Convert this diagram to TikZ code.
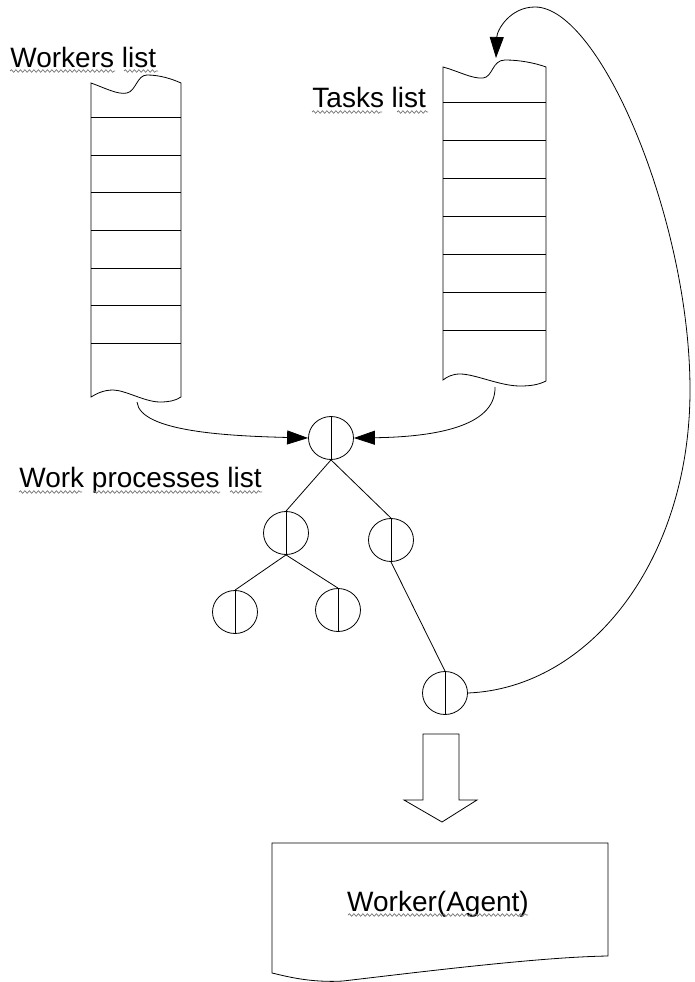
\documentclass[tikz,border=0pt]{standalone}
\usepackage{fontspec}
\setmainfont{Liberation Sans}
\usetikzlibrary{arrows.meta,shapes.geometric,decorations.pathmorphing}
\begin{document}
\begin{tikzpicture}[x=1pt,y=-1pt,line width=0.8pt,
  proc/.style={draw,ellipse,minimum width=45pt,minimum height=43pt,inner sep=0pt,
    path picture={\draw[line width=0.8pt] (path picture bounding box.north) -- (path picture bounding box.south);}},
  lbl/.style={font=\fontsize{28}{32}\selectfont,inner sep=0pt,anchor=base west},
  tip/.style={-{Triangle[length=21pt,width=14pt]}},
  squig/.style={draw=black!55,line width=0.7pt,decorate,decoration={snake,amplitude=1.3pt,segment length=4.5pt}},
  tree/.style={draw,line width=0.8pt}
]
\useasboundingbox (0,0) rectangle (695,982);

% labels
\node[lbl] (wl) at (10,67) {Workers list};
\node[lbl] (tl) at (312,107) {Tasks list};
\node[lbl] (pl) at (19,487) {Work processes list};
\node[font=\fontsize{28}{32}\selectfont,inner sep=0pt,anchor=base] (agent) at (438,911) {Worker(Agent)};

% spell-check squiggles
\path[squig] (10,71) -- (115,71);
\path[squig] (124,71) -- (158,71);
\path[squig] (312,112) -- (382,112);
\path[squig] (397,112) -- (428,112);
\path[squig] (19,492) -- (82,492);
\path[squig] (93,492) -- (220,492);
\path[squig] (230,492) -- (262,492);
\path[squig] (348,915) -- (528,915);

% workers list
\draw (91,83) .. controls (105,88) and (118,95) .. (127,93)
  .. controls (136,91) and (137,75) .. (147,75)
  .. controls (160,75) and (172,79) .. (181,83) -- (181,397)
  .. controls (175,401) and (168,402) .. (160,402)
  .. controls (145,402) and (125,390) .. (113,390)
  .. controls (103,390) and (96,394) .. (91,397) -- cycle;
\foreach \y in {117,155,192,230,268,305,343} \draw (91,\y) -- (181,\y);

% tasks list
\draw (443,67) .. controls (458,71) and (472,79) .. (483,78)
  .. controls (493,77) and (492,60) .. (505,60)
  .. controls (520,60) and (535,63) .. (546,67) -- (546,381)
  .. controls (538,385) and (530,386) .. (520,386)
  .. controls (500,386) and (475,374) .. (460,374)
  .. controls (452,374) and (447,377) .. (443,380) -- cycle;
\foreach \y in {102,140,178,216,254,292,330} \draw (443,\y) -- (546,\y);

\coordinate (wbot) at (137,402);
\coordinate (tbot) at (495,387);
\coordinate (ttop) at (496,58);

% process tree
\node[proc] (c0) at (331,438) {};
\node[proc] (c1) at (286,533) {};
\node[proc] (c2) at (391,540) {};
\node[proc] (c3) at (235,612) {};
\node[proc] (c4) at (338,610) {};
\node[proc] (c5) at (445,693) {};

\draw[tree] (c0.south) -- (c1.north);
\draw[tree] (c0.south) -- (c2.north);
\draw[tree] (c1.south) -- (c3.north);
\draw[tree] (c1.south) -- (c4.north);
\draw[tree] (c2.south) -- (c5.north);

% arrows into root
\draw[tip] (wbot) .. controls (140,432) and (230,436) .. (c0.west);
\draw[tip] (tbot) .. controls (496,428) and (430,437) .. (c0.east);

% feedback curve
\draw[tip] (c5.east) .. controls (590,688) and (690,560) .. (690,390)
  .. controls (690,220) and (600,7) .. (535,7)
  .. controls (510,7) and (497,30) .. (ttop);

% block arrow
\draw (423,734) -- (459,734) -- (459,800) -- (477,800) -- (442,822) -- (404,800) -- (423,800) -- cycle;

% worker box
\draw (272,843) -- (608,843) -- (608,956)
  .. controls (540,957) and (420,972) .. (343,981)
  .. controls (310,983) and (285,976) .. (272,973) -- cycle;
\end{tikzpicture}
\end{document}
